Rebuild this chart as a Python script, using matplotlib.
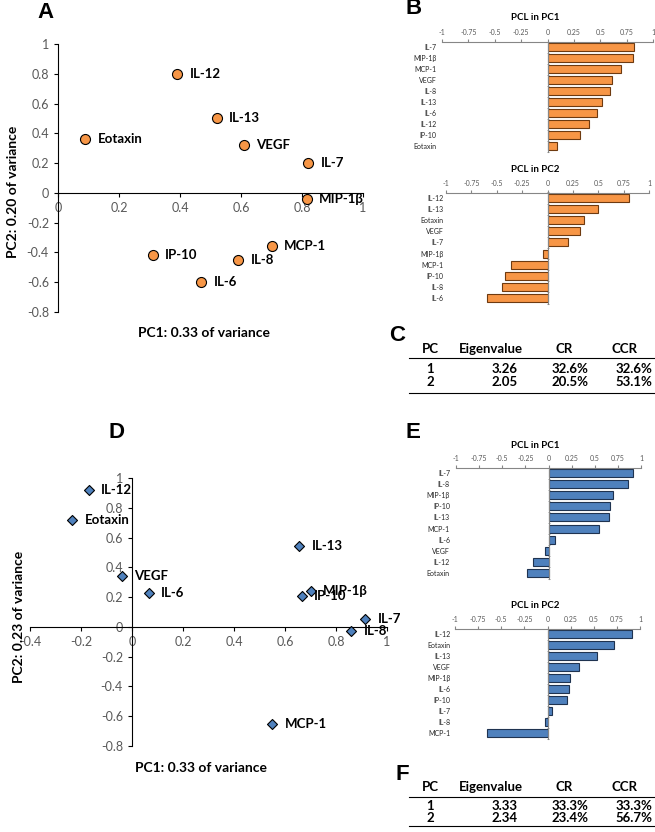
import numpy as np
import matplotlib.pyplot as plt
from matplotlib.lines import Line2D
from matplotlib.ticker import FuncFormatter

plt.rcParams['font.family'] = ['Lato', 'DejaVu Sans']

# first cohort (panels A, B, C)
cyto_1 = ['IL-7', 'MIP-1β', 'MCP-1', 'VEGF', 'IL-8', 'IL-13', 'IL-6', 'IL-12', 'IP-10', 'Eotaxin']
pc1_1 = [0.82, 0.815, 0.70, 0.61, 0.59, 0.52, 0.47, 0.39, 0.31, 0.09]
pc2_1 = [0.20, -0.04, -0.36, 0.32, -0.45, 0.50, -0.60, 0.80, -0.42, 0.36]
eig_1 = [3.26, 2.05]
cr_1 = [32.6, 20.5]
ccr_1 = [32.6, 53.1]

# second cohort (panels D, E, F)
cyto_2 = ['IL-7', 'IL-8', 'MIP-1β', 'IP-10', 'IL-13', 'MCP-1', 'IL-6', 'VEGF', 'IL-12', 'Eotaxin']
pc1_2 = [0.915, 0.86, 0.70, 0.665, 0.655, 0.55, 0.065, -0.04, -0.17, -0.235]
pc2_2 = [0.053, -0.03, 0.24, 0.21, 0.54, -0.65, 0.23, 0.345, 0.918, 0.72]
eig_2 = [3.33, 2.34]
cr_2 = [33.3, 23.4]
ccr_2 = [33.3, 56.7]

pcs = [1, 2]
bar_ticks = [-1, -0.75, -0.5, -0.25, 0, 0.25, 0.5, 0.75, 1]

W, H = 655, 832
fig = plt.figure(figsize=(W / 100, H / 100), dpi=100)

GREY = '#595959'
AXGREY = '#868686'
fmt = FuncFormatter(lambda v, p: f'{round(v, 2) + 0.0:g}')


# pixel positions (top-left origin) -> figure fraction
def fx(x):
    return x / W


def fy(y):
    return 1 - y / H


def rect(x0, y0, x1, y1):
    return [fx(x0), fy(y1), (x1 - x0) / W, (y1 - y0) / H]


def scatter_panel(box, xs, ys, names, marker, size, face, xlim):
    ax = fig.add_axes(rect(*box))
    ax.scatter(xs, ys, s=size, marker=marker, c=face, edgecolors='black',
               linewidths=0.8, zorder=3, clip_on=False)
    for x, y, n in zip(xs, ys, names):
        ax.annotate(n, (x, y), xytext=(9, 0), textcoords='offset points',
                    va='center', ha='left', fontsize=9.5, fontweight='bold',
                    annotation_clip=False, zorder=4)
    ax.set_xlim(*xlim)
    ax.set_ylim(-0.8, 1)
    ax.set_xticks(np.arange(xlim[0], 1.01, 0.2))
    ax.set_yticks(np.arange(-0.8, 1.01, 0.2))
    ax.xaxis.set_major_formatter(fmt)
    ax.yaxis.set_major_formatter(fmt)
    ax.spines['left'].set_position(('data', 0))
    ax.spines['bottom'].set_position(('data', 0))
    ax.spines[['top', 'right']].set_visible(False)
    ax.tick_params(labelsize=9, labelcolor=GREY, length=3, width=0.8)
    ax.patch.set_alpha(0)
    return ax


def bar_panel(box, names, vals, color, edge, title, title_y, pad):
    vals = np.asarray(vals)
    order = np.argsort(-vals, kind='stable')
    ax = fig.add_axes(rect(*box))
    pos = np.arange(len(order))
    ax.barh(pos, vals[order], height=0.72, color=color, edgecolor=edge, linewidth=0.8)
    ax.set_xlim(-1, 1)
    ax.set_ylim(len(order) - 0.5, -0.5)
    ax.set_yticks(pos, [names[i] for i in order])
    ax.set_yticks(np.arange(-0.5, len(order)), minor=True)
    ax.tick_params(axis='y', which='major', length=0, pad=pad, labelsize=5, labelcolor='#262626')
    ax.tick_params(axis='y', which='minor', length=2, direction='inout', color=AXGREY)
    for t in ax.get_yticklabels():
        t.set_fontweight('bold')
    ax.xaxis.tick_top()
    ax.set_xticks(bar_ticks)
    ax.xaxis.set_major_formatter(fmt)
    ax.tick_params(axis='x', length=2, labelsize=5, labelcolor=GREY, color=AXGREY, pad=2)
    ax.spines['left'].set_position(('data', 0))
    ax.spines[['bottom', 'right']].set_visible(False)
    ax.spines[['top', 'left']].set_color(AXGREY)
    fig.text(fx(535), fy(title_y), title, ha='center', va='center', fontsize=7, fontweight='bold')
    return ax


def table(y_head, y_line, y_rows, y_bottom, eig, cr, ccr):
    kw = dict(fontsize=9.5, fontweight='bold', va='center')
    fig.text(fx(430), fy(y_head), 'PC', ha='center', **kw)
    fig.text(fx(459), fy(y_head), 'Eigenvalue', ha='left', **kw)
    fig.text(fx(555), fy(y_head), 'CR', ha='left', **kw)
    fig.text(fx(612), fy(y_head), 'CCR', ha='left', **kw)
    for pc, e, c, cc, y in zip(pcs, eig, cr, ccr, y_rows):
        fig.text(fx(430), fy(y), str(pc), ha='center', **kw)
        fig.text(fx(518), fy(y), f'{e:.2f}', ha='right', **kw)
        fig.text(fx(588), fy(y), f'{c:.1f}%', ha='right', **kw)
        fig.text(fx(652), fy(y), f'{cc:.1f}%', ha='right', **kw)
    for y in (y_line, y_bottom):
        fig.add_artist(Line2D([fx(409), fx(655)], [fy(y), fy(y)], color='black', lw=0.8))


# panel A / D scatter plots
scatter_panel((58, 44, 363, 312), pc1_1, pc2_1, cyto_1, 'o', 52, '#F79646', (0, 1))
fig.text(fx(204), fy(333), 'PC1: 0.33 of variance', ha='center', va='center', fontsize=10, fontweight='bold')
fig.text(fx(13), fy(192), 'PC2: 0.20 of variance', ha='center', va='center', rotation=90,
         fontsize=10, fontweight='bold')

scatter_panel((30, 478, 387, 746), pc1_2, pc2_2, cyto_2, 'D', 26, '#4F81BD', (-0.4, 1))
fig.text(fx(201), fy(768), 'PC1: 0.33 of variance', ha='center', va='center', fontsize=10, fontweight='bold')
fig.text(fx(19), fy(617), 'PC2: 0.23 of variance', ha='center', va='center', rotation=90,
         fontsize=10, fontweight='bold')

# panel B / E loadings
bar_panel((442, 41.5, 653, 151.5), cyto_1, pc1_1, '#F79646', '#6E3A10', 'PCL in PC1', 18, 80)
bar_panel((446, 192.5, 649, 303.5), cyto_1, pc2_1, '#F79646', '#6E3A10', 'PCL in PC2', 170, 75)
bar_panel((456, 467.5, 641, 578.5), cyto_2, pc1_2, '#4F81BD', '#1F3350', 'PCL in PC1', 445, 71)
bar_panel((455, 628.5, 640, 738.5), cyto_2, pc2_2, '#4F81BD', '#1F3350', 'PCL in PC2', 606, 70)

# panel C / F tables
table(349, 358, [369, 382], 393, eig_1, cr_1, ccr_1)
table(787, 797, [806, 818], 826, eig_2, cr_2, ccr_2)

# panel letters
for letter, x, y in [('A', 45, 12), ('B', 414, 9), ('C', 397, 335),
                     ('D', 117, 433), ('E', 413, 433), ('F', 402, 774)]:
    fig.text(fx(x), fy(y), letter, ha='center', va='center', fontsize=16,
             fontweight='bold', family='Liberation Sans')

fig.savefig('out.png', dpi=100)
